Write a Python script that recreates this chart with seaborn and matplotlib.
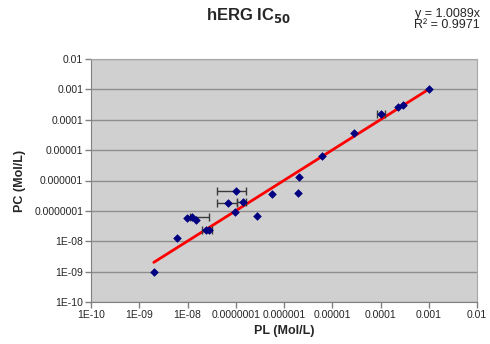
import matplotlib
matplotlib.use("Agg")
import matplotlib.pyplot as plt
import matplotlib.ticker as mticker
import numpy as np
import pandas as pd
import seaborn as sns

pl = [2.0e-9, 6.0e-9, 9.9e-9, 1.22e-8, 1.5e-8, 2.41e-8, 2.83e-8, 7.0e-8, 1.0e-7, 9.7e-8,
      1.39e-7, 2.72e-7, 5.56e-7, 1.98e-6, 2.07e-6, 6.0e-6, 2.82e-5, 1.0e-4, 2.34e-4, 2.95e-4, 1.0e-3]
pc = [1.0e-9, 1.26e-8, 6.0e-8, 6.3e-8, 5.0e-8, 2.3e-8, 2.35e-8, 1.78e-7, 4.57e-7, 9.5e-8,
      2.0e-7, 6.8e-8, 3.6e-7, 4.0e-7, 1.35e-6, 6.2e-6, 3.6e-5, 1.55e-4, 2.6e-4, 3.1e-4, 1.0e-3]
# horizontal error bars (lower / upper ends), only where visible
err_x = [1.22e-8, 2.41e-8, 7.0e-8, 1.0e-7, 1.39e-7, 1.0e-4]
err_y = [6.3e-8, 2.3e-8, 1.78e-7, 4.57e-7, 2.0e-7, 1.55e-4]
err_lo = [1.15e-8, 1.97e-8, 4.03e-8, 4.03e-8, 1.05e-7, 8.34e-5]
err_hi = [2.83e-8, 3.18e-8, 1.05e-7, 1.63e-7, 1.63e-7, 1.24e-4]

slope = 1.0089
r2 = 0.9971

ticks = [1e-10, 1e-9, 1e-8, 1e-7, 1e-6, 1e-5, 1e-4, 1e-3, 1e-2]
xtick_labels = ["1E-10", "1E-09", "1E-08", "0.0000001", "0.000001", "0.00001", "0.0001", "0.001", "0.01"]
ytick_labels = ["1E-10", "1E-09", "1E-08", "0.0000001", "0.000001", "0.00001", "0.0001", "0.001", "0.01"]

df = pd.DataFrame({"PL": pl, "PC": pc})
fit_x = np.array([min(pl), max(pl)])
fit = pd.DataFrame({"PL": fit_x, "PC": slope * fit_x})

sns.set_style("whitegrid", {"axes.facecolor": "#D0D0D0", "grid.color": "#8E8E8E",
                            "axes.edgecolor": "#A8A8A8"})
plt.rcParams["font.family"] = ["Liberation Sans", "DejaVu Sans"]

fig = plt.figure(figsize=(4.9, 3.44), dpi=100)
ax = fig.add_axes([91 / 490, 1 - 302 / 344, 386 / 490, 243 / 344])

ax.set_xscale("log")
ax.set_yscale("log")

sns.lineplot(data=fit, x="PL", y="PC", ax=ax, color="#FF0000", linewidth=2, zorder=2)
e = np.array(err_x)
ax.errorbar(err_x, err_y, xerr=[e - np.array(err_lo), np.array(err_hi) - e], fmt="none",
            ecolor="#3A3A3A", elinewidth=1, capsize=3, capthick=1, zorder=3)
sns.scatterplot(data=df, x="PL", y="PC", ax=ax, marker="D", color="#000080", s=15,
                edgecolor="#000080", linewidth=0.5, zorder=4)

ax.set_xlim(1e-10, 1e-2)
ax.set_ylim(1e-10, 1e-2)
ax.set_xticks(ticks)
ax.set_xticklabels(xtick_labels)
ax.set_yticks(ticks)
ax.set_yticklabels(ytick_labels)
ax.xaxis.set_minor_locator(mticker.NullLocator())
ax.yaxis.set_minor_locator(mticker.NullLocator())
ax.grid(axis="x", visible=False)
ax.grid(axis="y", linewidth=1)
ax.tick_params(axis="both", which="major", direction="out", length=4, width=1,
               color="#808080", labelsize=7.5, pad=1.5, left=True, bottom=True)
for side in ["left", "bottom"]:
    ax.spines[side].set_color("#808080")

ax.set_xlabel("PL (Mol/L)", fontsize=9, fontweight="bold", labelpad=4)
ax.set_ylabel("PC (Mol/L)", fontsize=9, fontweight="bold", labelpad=6)

fig.text(0.508, 0.955, r"hERG IC$_\mathbf{50}$", ha="center", va="center",
         fontsize=12, fontweight="bold")
fig.text(0.98, 0.978, f"y = {slope}x\nR² = {r2}", ha="right", va="top",
         fontsize=9, linespacing=0.95)

fig.savefig("out.png", dpi=100)
